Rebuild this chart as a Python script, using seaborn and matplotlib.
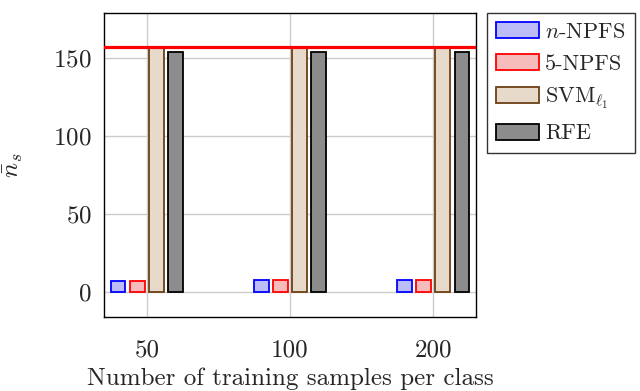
import pandas as pd
import seaborn as sns
import matplotlib.pyplot as plt

# samples per class (x groups) and mean number of selected features per method
groups = ['50', '100', '200']
methods = ['$n$-NPFS', '5-NPFS', r'SVM$_{\ell_1}$', 'RFE']
n_npfs = [7, 8, 8]
npfs_5 = [7, 7.5, 7.5]
svm_l1 = [157, 157, 157]
rfe = [154, 154, 154]
n_bands = 157

fills = ['#b3b3ff', '#ffb3b3', '#ecdac6', '#8c8c8c']
edges = ['#0000ff', '#ff0000', '#6b3f14', '#000000']

df = pd.DataFrame({
    'group': groups * 4,
    'method': [m for m in methods for _ in groups],
    'ns': n_npfs + npfs_5 + svm_l1 + rfe,
})

sns.set_style('white')
plt.rcParams['font.family'] = ['cmr10', 'DejaVu Serif']
plt.rcParams['mathtext.fontset'] = 'cm'
plt.rcParams['axes.unicode_minus'] = False
plt.rcParams['axes.formatter.use_mathtext'] = True

fig = plt.figure(figsize=(6.4, 3.91), dpi=100)
ax = fig.add_axes([0.1625, 0.189, 0.5813, 0.778])

sns.barplot(data=df, x='group', y='ns', hue='method', order=groups,
            hue_order=methods, palette=fills, width=0.533, gap=0.25,
            linewidth=1.3, legend=False, ax=ax, zorder=3)

for cont, ec in zip(ax.containers, edges):
    for bar in cont:
        bar.set_edgecolor(ec)

ax.axhline(n_bands, color='#ff0000', lw=2.3, zorder=5)

ax.set_xlim(-0.3, 2.3)
ax.set_ylim(-16, 179)
ax.set_yticks([0, 50, 100, 150])
ax.grid(True, color='#cccccc', lw=1.0, zorder=0)
ax.tick_params(labelsize=18, length=0)
ax.tick_params(axis='x', pad=16)
ax.tick_params(axis='y', pad=9)
for s in ax.spines.values():
    s.set_color('black')
    s.set_linewidth(1.0)

ax.set_xlabel('Number of training samples per class', fontsize=18, labelpad=4)
ax.set_ylabel(r'$\bar{n}_s$', fontsize=18, labelpad=20)

fig.legend(ax.containers, methods, loc='upper left', bbox_to_anchor=(0.761, 0.967),
           borderaxespad=0, fontsize=16, frameon=True, fancybox=False,
           edgecolor='black', handlelength=1.9, handleheight=0.72,
           labelspacing=0.55, handletextpad=0.3, borderpad=0.42)

fig.savefig('out.png', dpi=100)
